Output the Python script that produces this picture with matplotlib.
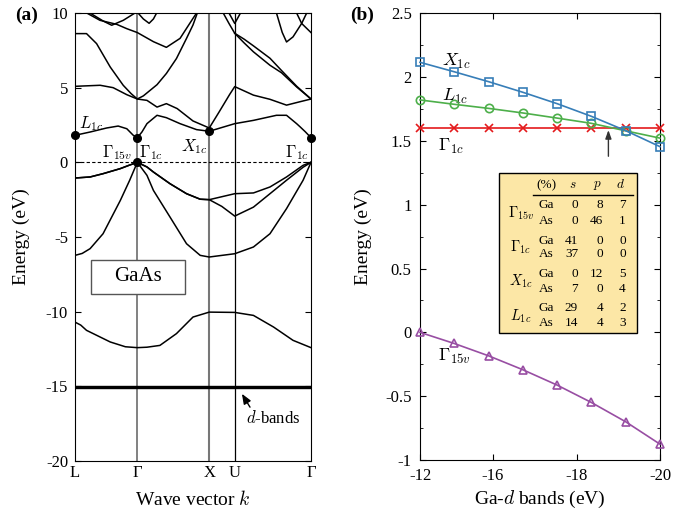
import numpy as np
import matplotlib
matplotlib.use('Agg')
import matplotlib.pyplot as plt
from matplotlib.patches import Rectangle

plt.rcParams['font.family'] = 'serif'
plt.rcParams['font.serif'] = ['Liberation Serif', 'DejaVu Serif']
plt.rcParams['mathtext.fontset'] = 'cm'

# ---------------- panel (a): band structure ----------------
k_points = [0.0, 0.866, 1.866, 2.22, 3.28]
k_labels = ['L', 'Γ', 'X', 'U', 'Γ']

# valence bands
hh1_k = [0, 0.21, 0.39, 0.63, 0.75, 0.866, 1.0, 1.09, 1.32, 1.55, 1.74, 1.866, 2.22, 2.48, 2.71, 2.94, 3.17, 3.28]
hh1_E = [-1.05, -0.98, -0.76, -0.42, -0.2, 0, -0.31, -0.65, -1.43, -2.1, -2.47, -2.5, -2.1, -2.05, -1.65, -0.98, -0.2, 0]
hh2_k = [0, 0.21, 0.39, 0.63, 0.75, 0.866, 1.0, 1.09, 1.32, 1.55, 1.74, 1.866, 2.04, 2.22, 2.48, 2.71, 2.94, 3.17, 3.28]
hh2_E = [-1.05, -0.98, -0.76, -0.42, -0.2, 0, -0.31, -0.65, -1.43, -2.1, -2.47, -2.5, -2.95, -3.6, -3.0, -2.1, -1.2, -0.33, 0]
lh_k = [0, 0.1, 0.21, 0.39, 0.63, 0.76, 0.866, 1.0, 1.09, 1.32, 1.55, 1.74, 1.866, 2.22, 2.48, 2.71, 2.94, 3.17, 3.28]
lh_E = [-6.23, -6.1, -5.78, -4.78, -2.55, -1.2, 0, -0.87, -1.88, -3.66, -5.45, -6.23, -6.34, -6.12, -5.67, -4.78, -3.1, -1.2, 0]
sb_k = [0, 0.08, 0.16, 0.49, 0.7, 0.866, 1.0, 1.18, 1.41, 1.64, 1.866, 2.22, 2.48, 2.76, 3.03, 3.28]
sb_E = [-10.7, -10.9, -11.25, -12.03, -12.35, -12.41, -12.38, -12.26, -11.47, -10.36, -10.03, -10.05, -10.25, -11.03, -11.92, -12.41]
dband_E = [-14.95, -15.03, -15.1]

# conduction bands
c1_k = [0, 0.21, 0.44, 0.60, 0.72, 0.81, 0.866, 0.93, 1.0, 1.14, 1.27, 1.46, 1.69, 1.866, 2.22, 2.48, 2.80, 2.94, 3.08, 3.13, 3.2, 3.28]
c1_E = [1.81, 2.03, 2.3, 2.43, 2.25, 1.81, 1.65, 2.03, 2.59, 3.15, 2.99, 2.59, 2.19, 2.08, 2.59, 2.81, 3.15, 3.15, 2.59, 2.37, 2.05, 1.65]
c2_k = [0, 0.35, 0.53, 0.72, 0.866, 1.0, 1.14, 1.27, 1.42, 1.64, 1.866, 2.0, 2.15, 2.22, 2.48, 2.71, 2.94, 3.12, 3.28]
c2_E = [5.09, 5.16, 5.0, 4.53, 4.24, 4.15, 3.7, 3.93, 3.6, 2.77, 2.3, 3.35, 4.55, 5.07, 4.5, 4.22, 3.83, 4.05, 4.24]
c3_k = [0, 0.16, 0.30, 0.49, 0.67, 0.78, 0.866, 0.95, 1.14, 1.27, 1.41, 1.55, 1.64, 1.70]
c3_E = [8.62, 8.62, 7.95, 6.38, 5.16, 4.6, 4.24, 4.45, 5.2, 5.95, 6.95, 8.3, 9.2, 10.0]
c4_k = [0.163, 0.347, 0.58, 0.72, 0.866, 1.09, 1.27, 1.46, 1.64, 1.69]
c4_E = [10.0, 9.51, 9.24, 8.95, 8.69, 8.08, 7.7, 8.3, 9.64, 10.0]
c5_k = [0.208, 0.393, 0.51, 0.671, 0.834]
c5_E = [10.0, 9.46, 9.18, 9.51, 10.0]
c6_k = [0.866, 0.95, 1.03, 1.09, 1.14]
c6_E = [10.05, 9.6, 9.31, 9.6, 10.05]
c7_k = [2.06, 2.14, 2.22, 2.35, 2.48, 2.71, 2.87, 3.08, 3.28]
c7_E = [10.0, 9.3, 8.64, 8.25, 7.8, 6.97, 6.15, 5.1, 4.24]
c8_k = [2.22, 2.35, 2.48, 2.71, 2.87, 3.08, 3.28]
c8_E = [8.64, 8.0, 7.4, 6.5, 6.0, 5.05, 4.24]
c9_k = [2.14, 2.22, 2.30]
c9_E = [10.0, 9.3, 10.0]
c10_k = [2.80, 2.88, 2.94, 3.03, 3.15, 3.22]
c10_E = [10.0, 8.7, 8.06, 8.4, 9.3, 10.0]
c11_k = [3.08, 3.15, 3.28]
c11_E = [10.0, 9.3, 8.69]

dot_k = [0, 0.866, 0.866, 1.866, 3.28]
dot_E = [1.81, 1.65, 0, 2.08, 1.65]

# ---------------- panel (b): Ga-d dependence ----------------
gad = [-12.0, -13.14, -14.29, -15.43, -16.57, -17.71, -18.86, -20.0]
gad_ticks = [-12.0, -14.43, -17.23, -20.0]
gad_ticklabels = ['-12', '-16', '-18', '-20']
X1c = [2.116, 2.042, 1.964, 1.881, 1.792, 1.693, 1.580, 1.455]
L1c = [1.821, 1.787, 1.755, 1.719, 1.679, 1.638, 1.579, 1.522]
G1c = [1.60, 1.60, 1.60, 1.60, 1.60, 1.60, 1.60, 1.60]
G15v = [0.0, -0.087, -0.184, -0.293, -0.413, -0.549, -0.701, -0.876]

tab_states = [r'$\Gamma_{15v}$', r'$\Gamma_{1c}$', r'$X_{1c}$', r'$L_{1c}$']
tab_atoms = ['Ga', 'As']
tab_s = [0, 0, 41, 37, 0, 7, 29, 14]
tab_p = [8, 46, 0, 0, 12, 0, 4, 4]
tab_d = [7, 1, 0, 0, 5, 4, 2, 3]

W, H = 693, 523
fig = plt.figure(figsize=(W / 100, H / 100), dpi=100)

ax1 = fig.add_axes([75 / W, 1 - 461 / H, 236 / W, 448 / H])
ax2 = fig.add_axes([420 / W, 1 - 460 / H, 240 / W, 446.7 / H])

# ---- (a)
bands = [(hh1_k, hh1_E), (hh2_k, hh2_E), (lh_k, lh_E), (sb_k, sb_E),
         (c1_k, c1_E), (c2_k, c2_E), (c3_k, c3_E), (c4_k, c4_E), (c5_k, c5_E),
         (c6_k, c6_E), (c7_k, c7_E), (c8_k, c8_E), (c9_k, c9_E),
         (c10_k, c10_E), (c11_k, c11_E)]
for kk, ee in bands:
    ax1.plot(kk, ee, color='black', lw=1.1, solid_joinstyle='round')
for e in dband_E:
    ax1.plot([k_points[0], k_points[-1]], [e, e], color='black', lw=1.0)

ax1.axvline(k_points[1], color='#777777', lw=1.3, zorder=0)
ax1.axvline(k_points[2], color='#777777', lw=1.5, zorder=0)
ax1.axvline(k_points[3], color='black', lw=0.9, zorder=0)
ax1.axhline(0, color='black', lw=0.8, ls=(0, (3, 2)))
ax1.plot(dot_k, dot_E, 'o', color='black', ms=5.5, clip_on=False, zorder=5)

ax1.set_xlim(k_points[0], k_points[-1])
ax1.set_ylim(-20, 10)
ax1.set_xticks(k_points)
ax1.set_xticklabels(k_labels)
ax1.set_yticks([10, 5, 0, -5, -10, -15, -20])
ax1.set_yticklabels(['10', '5', '0', '-5', '-10', '-15', '-20'])
ax1.tick_params(axis='x', length=0, pad=3, labelsize=12)
ax1.tick_params(axis='y', direction='in', right=True, length=4, pad=5, labelsize=12)
ax1.set_ylabel('Energy (eV)', fontsize=14)
ax1.set_xlabel('Wave vector $k$', fontsize=14)
ax1.yaxis.set_label_coords(-0.19, 0.5)
ax1.xaxis.set_label_coords(0.5, -0.065)

ax1.text(0.05, 2.3, r'$L_{1c}$', fontsize=12)
ax1.text(0.80, 0.35, r'$\Gamma_{15v}$', fontsize=12, ha='right')
ax1.text(0.89, 0.35, r'$\Gamma_{1c}$', fontsize=12, ha='left')
ax1.text(1.84, 0.75, r'$X_{1c}$', fontsize=12, ha='right')
ax1.text(3.25, 0.35, r'$\Gamma_{1c}$', fontsize=12, ha='right')
ax1.add_patch(Rectangle((0.218, -8.79), 1.53 - 0.218, 8.79 - 6.56,
                        fc='white', ec='#555555', lw=1.0, zorder=6))
ax1.text(0.874, -7.67, 'GaAs', fontsize=15, ha='center', va='center', zorder=7)
ax1.annotate('$d$-bands', xy=(2.32, -15.5), xytext=(2.38, -17.15),
             fontsize=12, va='center', ha='left',
             arrowprops=dict(arrowstyle='-|>,head_length=0.5,head_width=0.2',
                             color='black', lw=1.0, shrinkA=0, shrinkB=0,
                             relpos=(0.1, 1.0)))

# ---- (b)
blue, green, red, purple = '#377eb8', '#4daf4a', '#e41a1c', '#984ea3'
mk = dict(ms=6, mfc='none', mew=1.2, lw=1.2, clip_on=False)
ax2.plot(gad, G1c, 'x-', color=red, zorder=3, **mk)
ax2.plot(gad, L1c, 'o-', color=green, zorder=4, **mk)
ax2.plot(gad, X1c, 's-', color=blue, zorder=5, **mk)
ax2.plot(gad, G15v, '^-', color=purple, zorder=4, **mk)

ax2.set_xlim(-12, -20)
ax2.set_ylim(-1, 2.5)
ax2.set_xticks(gad_ticks)
ax2.set_xticklabels(gad_ticklabels)
ax2.set_yticks([2.5, 2, 1.5, 1, 0.5, 0, -0.5, -1])
ax2.set_yticklabels(['2.5', '2', '1.5', '1', '0.5', '0', '-0.5', '-1'])
ax2.set_yticks(np.arange(-1, 2.5, 0.25), minor=True)
ax2.tick_params(which='both', direction='in', top=True, right=True, labelsize=12)
ax2.tick_params(which='major', length=4, pad=6)
ax2.tick_params(which='minor', length=2.5)
ax2.set_ylabel('Energy (eV)', fontsize=14)
ax2.set_xlabel('Ga-$d$ bands (eV)', fontsize=14)
ax2.yaxis.set_label_coords(-0.2, 0.5)
ax2.xaxis.set_label_coords(0.5, -0.065)

ax2.text(-12.75, 2.12, r'$X_{1c}$', fontsize=13, ha='left', va='center')
ax2.text(-12.75, 1.85, r'$L_{1c}$', fontsize=13, ha='left', va='center')
ax2.text(-12.6, 1.46, r'$\Gamma_{1c}$', fontsize=13, ha='left', va='center')
ax2.text(-12.6, -0.19, r'$\Gamma_{15v}$', fontsize=13, ha='left', va='center')
ax2.annotate('', xy=(-18.28, 1.585), xytext=(-18.28, 1.38),
             arrowprops=dict(arrowstyle='-|>,head_length=0.5,head_width=0.18',
                             color='#333333', lw=1.0, shrinkA=0, shrinkB=0))

# table of orbital characters (positions in axes fraction, from pixel layout)
def fx(px):
    return (px - 420) / 240.0

def fy(py):
    return (460 - py) / 446.7

ax2.add_patch(Rectangle((fx(499), fy(333.3)), fx(637.3) - fx(499), fy(173.3) - fy(333.3),
                        transform=ax2.transAxes, fc='#fce7a6', ec='black', lw=1.0, zorder=6))
tk = dict(transform=ax2.transAxes, fontsize=9.5, zorder=7, va='center')
ax2.text(fx(546.7), fy(185), '(%)', ha='center', **tk)
for lab, px in zip(['$s$', '$p$', '$d$'], [573, 597, 620]):
    ax2.text(fx(px), fy(185), lab, ha='center', **tk)
ax2.plot([fx(532.7), fx(632.7)], [fy(195), fy(195)], color='black', lw=1.0,
         transform=ax2.transAxes, zorder=7)
row_y = [205, 220.7, 240.7, 254.3, 274.3, 289, 308.3, 323.3]
for i, state in enumerate(tab_states):
    ax2.text(fx(521), fy((row_y[2 * i] + row_y[2 * i + 1]) / 2), state, ha='center',
             transform=ax2.transAxes, fontsize=10.5, zorder=7, va='center')
for j, py in enumerate(row_y):
    ax2.text(fx(546), fy(py), tab_atoms[j % 2], ha='center', **tk)
    ax2.text(fx(578), fy(py), str(tab_s[j]), ha='right', **tk)
    ax2.text(fx(603), fy(py), str(tab_p[j]), ha='right', **tk)
    ax2.text(fx(625.7), fy(py), str(tab_d[j]), ha='right', **tk)

fig.text(15 / W, 1 - 15 / H, '(a)', fontsize=14, fontweight='bold', va='center')
fig.text(350 / W, 1 - 15 / H, '(b)', fontsize=14, fontweight='bold', va='center')

fig.savefig('out.png', dpi=100)
